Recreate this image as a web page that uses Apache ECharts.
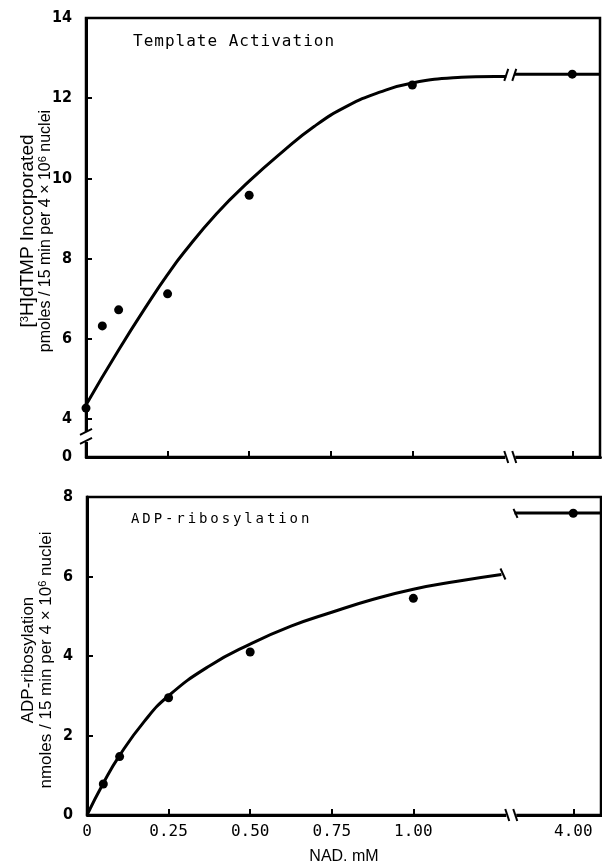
<!DOCTYPE html>
<html><head><meta charset="utf-8">
<script src="https://cdn.jsdelivr.net/npm/echarts@6/dist/echarts.min.js"></script>
<style>html,body{margin:0;padding:0;background:#fff}#c{width:602px;height:866px}</style>
</head><body><div id="c"></div>
<script>
// ---- data ----
const xTickValues = [0, 0.25, 0.5, 0.75, 1.0, 4.0];
const xTickLabels = ['0', '0.25', '0.50', '0.75', '1.00', '4.00'];
const xBreak = [1.30, 3.81];
const xMax = 4.085;

const topYTicks = [0, 4, 6, 8, 10, 12, 14];
const topYBreak = [0.5, 3.55];
const botYTicks = [0, 2, 4, 6, 8];

const topPointsX = [0, 0.05, 0.1, 0.25, 0.5, 1.0, 4.0];
const topPointsY = [4.27, 6.32, 6.72, 7.12, 9.58, 12.33, 12.6];
const topCurveX = [0, 0.1, 0.2, 0.25, 0.3, 0.4, 0.5, 0.6, 0.7, 0.8, 0.9, 1.0, 1.15, 1.30, 3.81, 4.085];
const topCurveY = [4.35, 5.72, 7.0, 7.6, 8.15, 9.12, 9.93, 10.65, 11.3, 11.8, 12.15, 12.38, 12.52, 12.56, 12.6, 12.6];

const botPointsX = [0.05, 0.1, 0.25, 0.5, 1.0, 4.0];
const botPointsY = [0.78, 1.47, 2.95, 4.1, 5.45, 7.59];
const botCurveX = [0, 0.05, 0.1, 0.175, 0.25, 0.375, 0.5, 0.625, 0.75, 0.875, 1.0, 1.135, 1.27];
const botCurveY = [0, 0.8, 1.5, 2.35, 3.0, 3.75, 4.3, 4.75, 5.1, 5.42, 5.68, 5.88, 6.05];
const botPlateauX = [3.82, 4.085];
const botPlateauY = [7.6, 7.6];

const topTitle = 'Template Activation';
const botTitle = 'ADP-ribosylation';
const xName = 'NAD. mM';
const topYName = '{a|[}{s|3}{a|H]dTMP Incorporated}\n{n|pmoles / 15 min per 4 × 10}{s|6}{n| nuclei}';
const botYName = '{m|ADP-ribosylation}\n{m|nmoles / 15 min per 4 × 10}{s|6}{m| nuclei}';

// ---- typewriter letter spacing for the monospace panel titles (canvas) ----
const spacedTitles = {};
spacedTitles[topTitle] = '1px';
spacedTitles[botTitle] = '2.9px';
(function () {
  const P = CanvasRenderingContext2D.prototype;
  const orig = P.fillText;
  P.fillText = function (t, x, y, w) {
    const sp = spacedTitles[t];
    if (sp && /Mono/.test(this.font) && 'letterSpacing' in this) {
      const f = this.font;
      this.save();
      this.letterSpacing = sp;
      this.font = f;
      const r = w === undefined ? orig.call(this, t, x, y) : orig.call(this, t, x, y, w);
      this.letterSpacing = '0px';
      this.restore();
      this.letterSpacing = '0px';
      this.font = '10px sans-serif';
      this.font = f;
      return r;
    }
    return w === undefined ? orig.call(this, t, x, y) : orig.call(this, t, x, y, w);
  };
})();

// ---- helpers ----
const zip = (xs, ys) => xs.map((x, i) => [x, ys[i]]);
const INK = '#000';
const monoFont = "'DejaVu Sans Mono', monospace";
const yLabFont = "'Liberation Sans Narrow', 'DejaVu Sans Condensed', 'Liberation Sans', sans-serif";
const sansFont = "'Liberation Sans', Arial, sans-serif";

function xAxisCfg(gridIndex, showLabels) {
  return {
    type: 'value', gridIndex, min: 0, max: xMax,
    breaks: [{ start: xBreak[0], end: xBreak[1], gap: 0 }],
    breakArea: { show: false },
    axisLine: { show: true, onZero: false, lineStyle: { color: INK, width: 3 } },
    axisTick: { show: true, inside: true, length: 6, lineStyle: { color: INK, width: 2 }, customValues: xTickValues },
    axisLabel: {
      show: showLabels, customValues: xTickValues, margin: 9,
      color: INK, fontFamily: monoFont, fontSize: 16,
      formatter: v => { const i = xTickValues.findIndex(t => Math.abs(t - v) < 1e-9); return i >= 0 ? xTickLabels[i] : ''; }
    },
    splitLine: { show: false },
    name: showLabels ? xName : '', nameLocation: 'middle', nameGap: 34,
    nameTextStyle: { color: INK, fontFamily: sansFont, fontSize: 16 }
  };
}
function yAxisCfg(gridIndex, max, ticks, brk) {
  const c = {
    type: 'value', gridIndex, min: 0, max,
    axisLine: { show: true, onZero: false, lineStyle: { color: INK, width: 3 } },
    axisTick: { show: true, inside: true, length: 6, lineStyle: { color: INK, width: 2 }, customValues: ticks },
    axisLabel: { show: true, customValues: ticks, margin: 14, color: INK, fontFamily: yLabFont, fontSize: 16, fontWeight: 'bold' },
    splitLine: { show: false }
  };
  if (brk) { c.breaks = [{ start: brk[0], end: brk[1], gap: 0 }]; c.breakArea = { show: false }; }
  return c;
}

const chart = echarts.init(document.getElementById('c'), null, { renderer: 'canvas' });
chart.setOption({
  animation: false,
  backgroundColor: '#fff',
  title: [
    { text: topTitle, left: 133, top: 34, padding: 0, textStyle: { color: INK, fontFamily: monoFont, fontSize: 16, fontWeight: 'normal' } },
    { text: botTitle, left: 131, top: 512, padding: 0, textStyle: { color: INK, fontFamily: monoFont, fontSize: 14, fontWeight: 'normal' } }
  ],
  grid: [
    { left: 86, top: 18, width: 514, height: 439, show: true, borderColor: INK, borderWidth: 2.5, backgroundColor: 'transparent' },
    { left: 87, top: 497, width: 514, height: 320, show: true, borderColor: INK, borderWidth: 2.5, backgroundColor: 'transparent' }
  ],
  xAxis: [xAxisCfg(0, false), xAxisCfg(1, true)],
  yAxis: [yAxisCfg(0, 14, topYTicks, topYBreak), yAxisCfg(1, 8, botYTicks, null)],
  series: [
    { type: 'line', xAxisIndex: 0, yAxisIndex: 0, data: zip(topCurveX, topCurveY), smooth: 0.5,
      showSymbol: false, lineStyle: { color: INK, width: 3 }, z: 2 },
    { type: 'scatter', xAxisIndex: 0, yAxisIndex: 0, data: zip(topPointsX, topPointsY), symbol: 'circle', symbolSize: 9,
      itemStyle: { color: INK, opacity: 1 }, z: 3 },
    { type: 'line', xAxisIndex: 1, yAxisIndex: 1, data: zip(botCurveX, botCurveY), smooth: 0.5,
      showSymbol: false, lineStyle: { color: INK, width: 3 }, z: 2 },
    { type: 'line', xAxisIndex: 1, yAxisIndex: 1, data: zip(botPlateauX, botPlateauY),
      showSymbol: false, lineStyle: { color: INK, width: 3 }, z: 2 },
    { type: 'scatter', xAxisIndex: 1, yAxisIndex: 1, data: zip(botPointsX, botPointsY), symbol: 'circle', symbolSize: 9,
      itemStyle: { color: INK, opacity: 1 }, z: 3 }
  ]
});

// ---- decorations: break marks and rotated axis titles ----
const px = (g, x, y) => chart.convertToPixel({ gridIndex: g }, [x, y]);
const G = [];
const white = (x, y, w, h) => G.push({ type: 'rect', shape: { x, y, width: w, height: h }, style: { fill: '#fff' }, z: 50, silent: true });
const stroke = (x1, y1, x2, y2) => G.push({ type: 'line', shape: { x1, y1, x2, y2 }, style: { stroke: INK, lineWidth: 2 }, z: 51, silent: true });

// y-axis break on top panel
{
  const a = px(0, 0, topYBreak[0]), b = px(0, 0, topYBreak[1]);
  const ax = a[0], yb = (a[1] + b[1]) / 2;
  white(ax - 5, yb - 5, 10, 10);
  stroke(ax - 6, yb - 2, ax + 6, yb - 8);
  stroke(ax - 6, yb + 7, ax + 6, yb + 1);
}
// x-axis breaks on both panels
[0, 1].forEach(g => {
  const a = px(g, xBreak[0], 0), b = px(g, xBreak[1], 0);
  const xb = (a[0] + b[0]) / 2, yA = a[1];
  white(xb - 5, yA - 4, 10, 8);
  stroke(xb - 6, yA - 6, xb - 2, yA + 6);
  stroke(xb + 2, yA - 6, xb + 6, yA + 6);
});
// curve break on top panel
{
  const i = topCurveX.indexOf(xBreak[0]);
  const a = px(0, xBreak[0], topCurveY[i]), b = px(0, xBreak[1], topCurveY[i + 1]);
  const xb = (a[0] + b[0]) / 2, yc = (a[1] + b[1]) / 2;
  white(xb - 4, yc - 4, 8, 8);
  stroke(xb - 6, yc + 6, xb - 2, yc - 6);
  stroke(xb + 2, yc + 6, xb + 6, yc - 6);
}
// end ticks on bottom curve segments
{
  const n = botCurveX.length - 1;
  const e = px(1, botCurveX[n], botCurveY[n]);
  stroke(e[0] - 1, e[1] - 6, e[0] + 4, e[1] + 5);
  const s = px(1, botPlateauX[0], botPlateauY[0]);
  stroke(s[0] - 1, s[1] - 4, s[0] + 3, s[1] + 5);
}
// rotated y-axis titles
const nameRich = {
  a: { fontSize: 19, fontFamily: sansFont, fill: INK, lineHeight: 18 },
  n: { fontSize: 16, fontFamily: sansFont, fill: INK, lineHeight: 18 },
  m: { fontSize: 17, fontFamily: sansFont, fill: INK, lineHeight: 18 },
  s: { fontSize: 11, fontFamily: sansFont, fill: INK, lineHeight: 10, verticalAlign: 'top' }
};
G.push({ type: 'text', x: 37, y: 231, rotation: Math.PI / 2, z: 60,
  style: { text: topYName, rich: nameRich, align: 'center', verticalAlign: 'middle', fill: INK } });
G.push({ type: 'text', x: 37, y: 660, rotation: Math.PI / 2, z: 60,
  style: { text: botYName, rich: nameRich, align: 'center', verticalAlign: 'middle', fill: INK } });

chart.setOption({ graphic: G });
</script></body></html>
